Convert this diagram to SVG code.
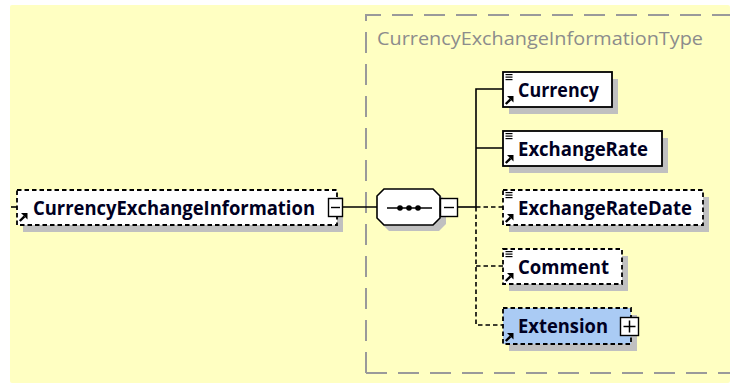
<svg xmlns="http://www.w3.org/2000/svg" width="730" height="383" viewBox="0 0 730 383">
<style>
.lbl{font-family:"Open Sans","Liberation Sans",Arial,sans-serif;font-weight:bold;font-size:19px;fill:#000022}
.ttl{font-family:"Open Sans","Liberation Sans",Arial,sans-serif;font-size:19px;fill:#8c8c8c}
.box{fill:#ffffff;stroke:#000;stroke-width:1.8}
.opt{fill:#ffffff;stroke:#000;stroke-width:1.8;stroke-dasharray:4.5 3}
.ext{fill:#aacbf4;stroke:#000;stroke-width:1.8;stroke-dasharray:4.5 3}
.shd{fill:#c0c0c0}
.ln{stroke:#000;stroke-width:1.6;fill:none}
.dl{stroke:#000;stroke-width:1.6;fill:none;stroke-dasharray:4.5 3}
.frame{stroke:#9a9a9a;stroke-width:2;fill:none;stroke-dasharray:21 11}
.pm{fill:#fff;stroke:#000;stroke-width:1.4}
</style>
<defs>
<g id="arrow">
<line x1="0.8" y1="8" x2="5.5" y2="3.3" stroke="#000" stroke-width="2.4"/>
<polygon points="8.5,0 8.5,6.5 2,0" fill="#000"/>
</g>
<g id="lines">
<line x1="0" y1="0.6" x2="7" y2="0.6" stroke="#000" stroke-width="1.2"/>
<line x1="0" y1="3.1" x2="7" y2="3.1" stroke="#000" stroke-width="1.2"/>
<line x1="0" y1="5.6" x2="7" y2="5.6" stroke="#000" stroke-width="1.2"/>
</g>
</defs>
<rect x="10" y="5" width="720" height="378" rx="2" fill="#ffffc2"/>
<g id="frame">
<path class="frame" d="M366 373 V15 H740 M366 373 H740"/>
<text class="ttl" x="377" y="45" textLength="326" lengthAdjust="spacingAndGlyphs">CurrencyExchangeInformationType</text>
</g>
<g id="connectors">
<line class="ln" x1="343" y1="207" x2="377" y2="207"/>
<line class="ln" x1="458" y1="207" x2="476" y2="207"/>
<path class="ln" d="M476 207 V89 H503 M476 148 H503"/>
<path class="dl" d="M476 207 V325 H503 M476 207 H503 M476 266 H503"/>
</g>
<g id="CurrencyExchangeInformation">
<line x1="11" y1="207" x2="17" y2="207" stroke="#000" stroke-width="1.6"/>
<rect class="shd" x="23" y="197" width="320" height="35"/>
<rect class="opt" x="17" y="190" width="320" height="35"/>
<use href="#arrow" x="19" y="213"/>
<text class="lbl" x="33" y="215" textLength="282" lengthAdjust="spacingAndGlyphs">CurrencyExchangeInformation</text>
<rect class="pm" x="328.5" y="198.5" width="14" height="18"/>
<line x1="331" y1="207.5" x2="340" y2="207.5" stroke="#000" stroke-width="1.4"/>
</g>
<g id="sequence">
<polygon class="shd" points="389,194 439,194 446,201 446,224 439,231 389,231 382,224 382,201"/>
<polygon points="384,189 433,189 440,196 440,218 433,225 384,225 377,218 377,196" fill="#fff" stroke="#000" stroke-width="1.6"/>
<line x1="387" y1="208" x2="432" y2="208" stroke="#000" stroke-width="1.6"/>
<circle cx="400" cy="208" r="2.8" fill="#000"/>
<circle cx="409" cy="208" r="2.8" fill="#000"/>
<circle cx="418" cy="208" r="2.8" fill="#000"/>
<rect class="pm" x="440.5" y="198.5" width="17" height="18"/>
<line x1="444" y1="207.5" x2="454" y2="207.5" stroke="#000" stroke-width="1.4"/>
</g>
<g id="Currency">
<rect class="shd" x="509" y="79" width="109" height="35"/>
<rect class="box" x="503" y="72" width="109" height="35"/>
<use href="#lines" x="505.5" y="74"/>
<use href="#arrow" x="505" y="96"/>
<text class="lbl" x="518" y="97" textLength="81" lengthAdjust="spacingAndGlyphs">Currency</text>
</g>
<g id="ExchangeRate">
<rect class="shd" x="509" y="138" width="159" height="35"/>
<rect class="box" x="503" y="131" width="159" height="35"/>
<use href="#lines" x="505.5" y="133"/>
<use href="#arrow" x="505" y="155"/>
<text class="lbl" x="518" y="156" textLength="130" lengthAdjust="spacingAndGlyphs">ExchangeRate</text>
</g>
<g id="ExchangeRateDate">
<rect class="shd" x="509" y="197" width="200" height="35"/>
<rect class="opt" x="503" y="190" width="200" height="35"/>
<use href="#lines" x="505.5" y="192"/>
<use href="#arrow" x="505" y="214"/>
<text class="lbl" x="518" y="215" textLength="174" lengthAdjust="spacingAndGlyphs">ExchangeRateDate</text>
</g>
<g id="Comment">
<rect class="shd" x="509" y="256" width="119" height="35"/>
<rect class="opt" x="503" y="249" width="119" height="35"/>
<use href="#lines" x="505.5" y="251"/>
<use href="#arrow" x="505" y="273"/>
<text class="lbl" x="518" y="274" textLength="91" lengthAdjust="spacingAndGlyphs">Comment</text>
</g>
<g id="Extension">
<rect class="shd" x="509" y="315" width="128" height="36"/>
<rect class="ext" x="503" y="308" width="128" height="36"/>
<use href="#arrow" x="505" y="333"/>
<text class="lbl" x="518" y="333" textLength="90" lengthAdjust="spacingAndGlyphs">Extension</text>
<rect class="pm" x="620.5" y="317.5" width="18" height="18"/>
<line x1="623.5" y1="326.5" x2="635.5" y2="326.5" stroke="#000" stroke-width="1.5"/>
<line x1="629.5" y1="320.5" x2="629.5" y2="332.5" stroke="#000" stroke-width="1.5"/>
</g>
</svg>
